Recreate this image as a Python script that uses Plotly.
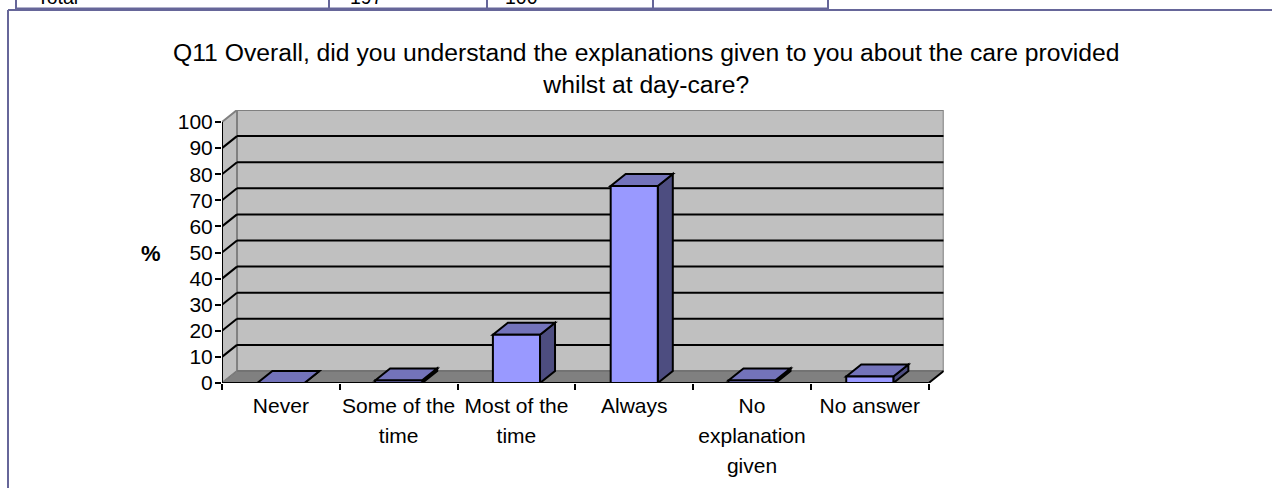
import plotly.graph_objects as go

categories = ["Never", "Some of the<br>time", "Most of the<br>time", "Always", "No<br>explanation<br>given", "No answer"]
values = [0, 1, 18.5, 75.5, 1, 2.5]
y_ticks = list(range(0, 101, 10))
title_text = "Q11 Overall, did you understand the explanations given to you about the care provided<br>whilst at day-care?"

FONT = "Liberation Sans"
DX, DY = 0.1275, 4.6      # depth of the 3-D effect, data units
BAR_W = 0.4
FRAME = "#666699"

def poly(pts, fill, line="black", width=2, xref="x", yref="y"):
    d = "M " + " L ".join(f"{x},{y}" for x, y in pts) + " Z"
    return dict(type="path", path=d, xref=xref, yref=yref, fillcolor=fill,
                line=dict(color=line, width=width), layer="below")

def seg(x0, y0, x1, y1, color="black", width=2, layer="below"):
    return dict(type="line", xref="x", yref="y", x0=x0, y0=y0, x1=x1, y1=y1,
                line=dict(color=color, width=width), layer=layer)

L, R = -0.5, 5.5
shapes = [
    poly([(L + DX, DY), (R + DX, DY), (R + DX, 100 + DY), (L + DX, 100 + DY)], "#C0C0C0", "#808080"),
    poly([(L, 0), (L + DX, DY), (L + DX, 100 + DY), (L, 100)], "#C0C0C0", "#808080"),
    poly([(L, 0), (R, 0), (R + DX, DY), (L + DX, DY)], "#808080", "#666666", 1),
]
for t in y_ticks[1:-1]:
    shapes.append(seg(L + DX, t + DY, R + DX, t + DY))
    shapes.append(seg(L, t, L + DX, t + DY))
shapes.append(seg(L, 0, L + DX, DY, "#808080", 1))
for i, v in enumerate(values):
    a, b = i - BAR_W / 2, i + BAR_W / 2
    shapes.append(poly([(b, 0), (b + DX, DY), (b + DX, v + DY), (b, v)], "#4D4D80"))
    shapes.append(poly([(a, v), (b, v), (b + DX, v + DY), (a + DX, v + DY)], "#7373BA"))

# tick font sets the line spacing (1.3 em); the span sets the glyph size
labels = ["<br>".join(f'<span style="font-size:21px">{p}</span>' for p in c.split("<br>")) for c in categories]

fig = go.Figure(go.Bar(x=labels, y=values, width=BAR_W, marker=dict(color="#9999FF", line=dict(color="black", width=2)), hoverinfo="skip"))
ax_shapes = [seg(L, 0, L, 100, layer="above"), seg(L, 0, R, 0, layer="above"), seg(R, 0, R + DX, DY, layer="above")]

def paper_line(x0, y0, x1, y1, color=FRAME, width=2):
    return dict(type="line", xref="paper", yref="paper", x0=x0 / 1272, x1=x1 / 1272,
                y0=1 - y0 / 488, y1=1 - y1 / 488, line=dict(color=color, width=width), layer="below")

frame = [paper_line(8, 10, 1272, 10), paper_line(8, 10, 8, 488)]
frame += [paper_line(x, 0, x, 9) for x in (16, 329, 487, 653, 828)]
frame += [paper_line(16, 8.5, 828, 8.5)]

def note(text, x, y, size, xanchor="center"):
    return dict(text=text, xref="paper", yref="paper", x=x / 1272, y=1 - y / 488, xanchor=xanchor, yanchor="middle",
                showarrow=False, font=dict(size=size))

fig.update_layout(
    width=1272, height=488, margin=dict(l=0, r=0, t=0, b=0, autoexpand=False),
    paper_bgcolor="white", plot_bgcolor="white", showlegend=False,
    bargap=0.6, font=dict(family=FONT, color="black", size=21),
    shapes=frame + shapes + ax_shapes,
    xaxis=dict(domain=[222 / 1272, 943.7 / 1272], type="category", categoryorder="array", categoryarray=labels,
               range=[L, R + DX], tickson="boundaries", ticks="outside", ticklen=6, tickwidth=2, tickcolor="black",
               tickangle=0, showgrid=False, showline=False, zeroline=False, tickfont=dict(size=23), ticklabelstandoff=6),
    yaxis=dict(domain=[1 - 383 / 488, 1 - 110 / 488], range=[0, 100 + DY], tickvals=y_ticks, ticks="outside", ticklen=6,
               tickwidth=2, tickcolor="black", showgrid=False, showline=False, zeroline=False,
               tickfont=dict(size=21), ticklabelstandoff=-2),
    annotations=[
        note(title_text, 646, 68, 24.7),
        note("<b>%</b>", 151, 254, 22),
        note("Total", 35, -3, 19.5, "left"),
        note("197", 348, -3, 19.5, "left"),
        note("100", 503, -3, 19.5, "left"),
    ],
)
fig.write_html("out.html", config=dict(displayModeBar=False),
               post_script="document.body.style.margin='0';")
